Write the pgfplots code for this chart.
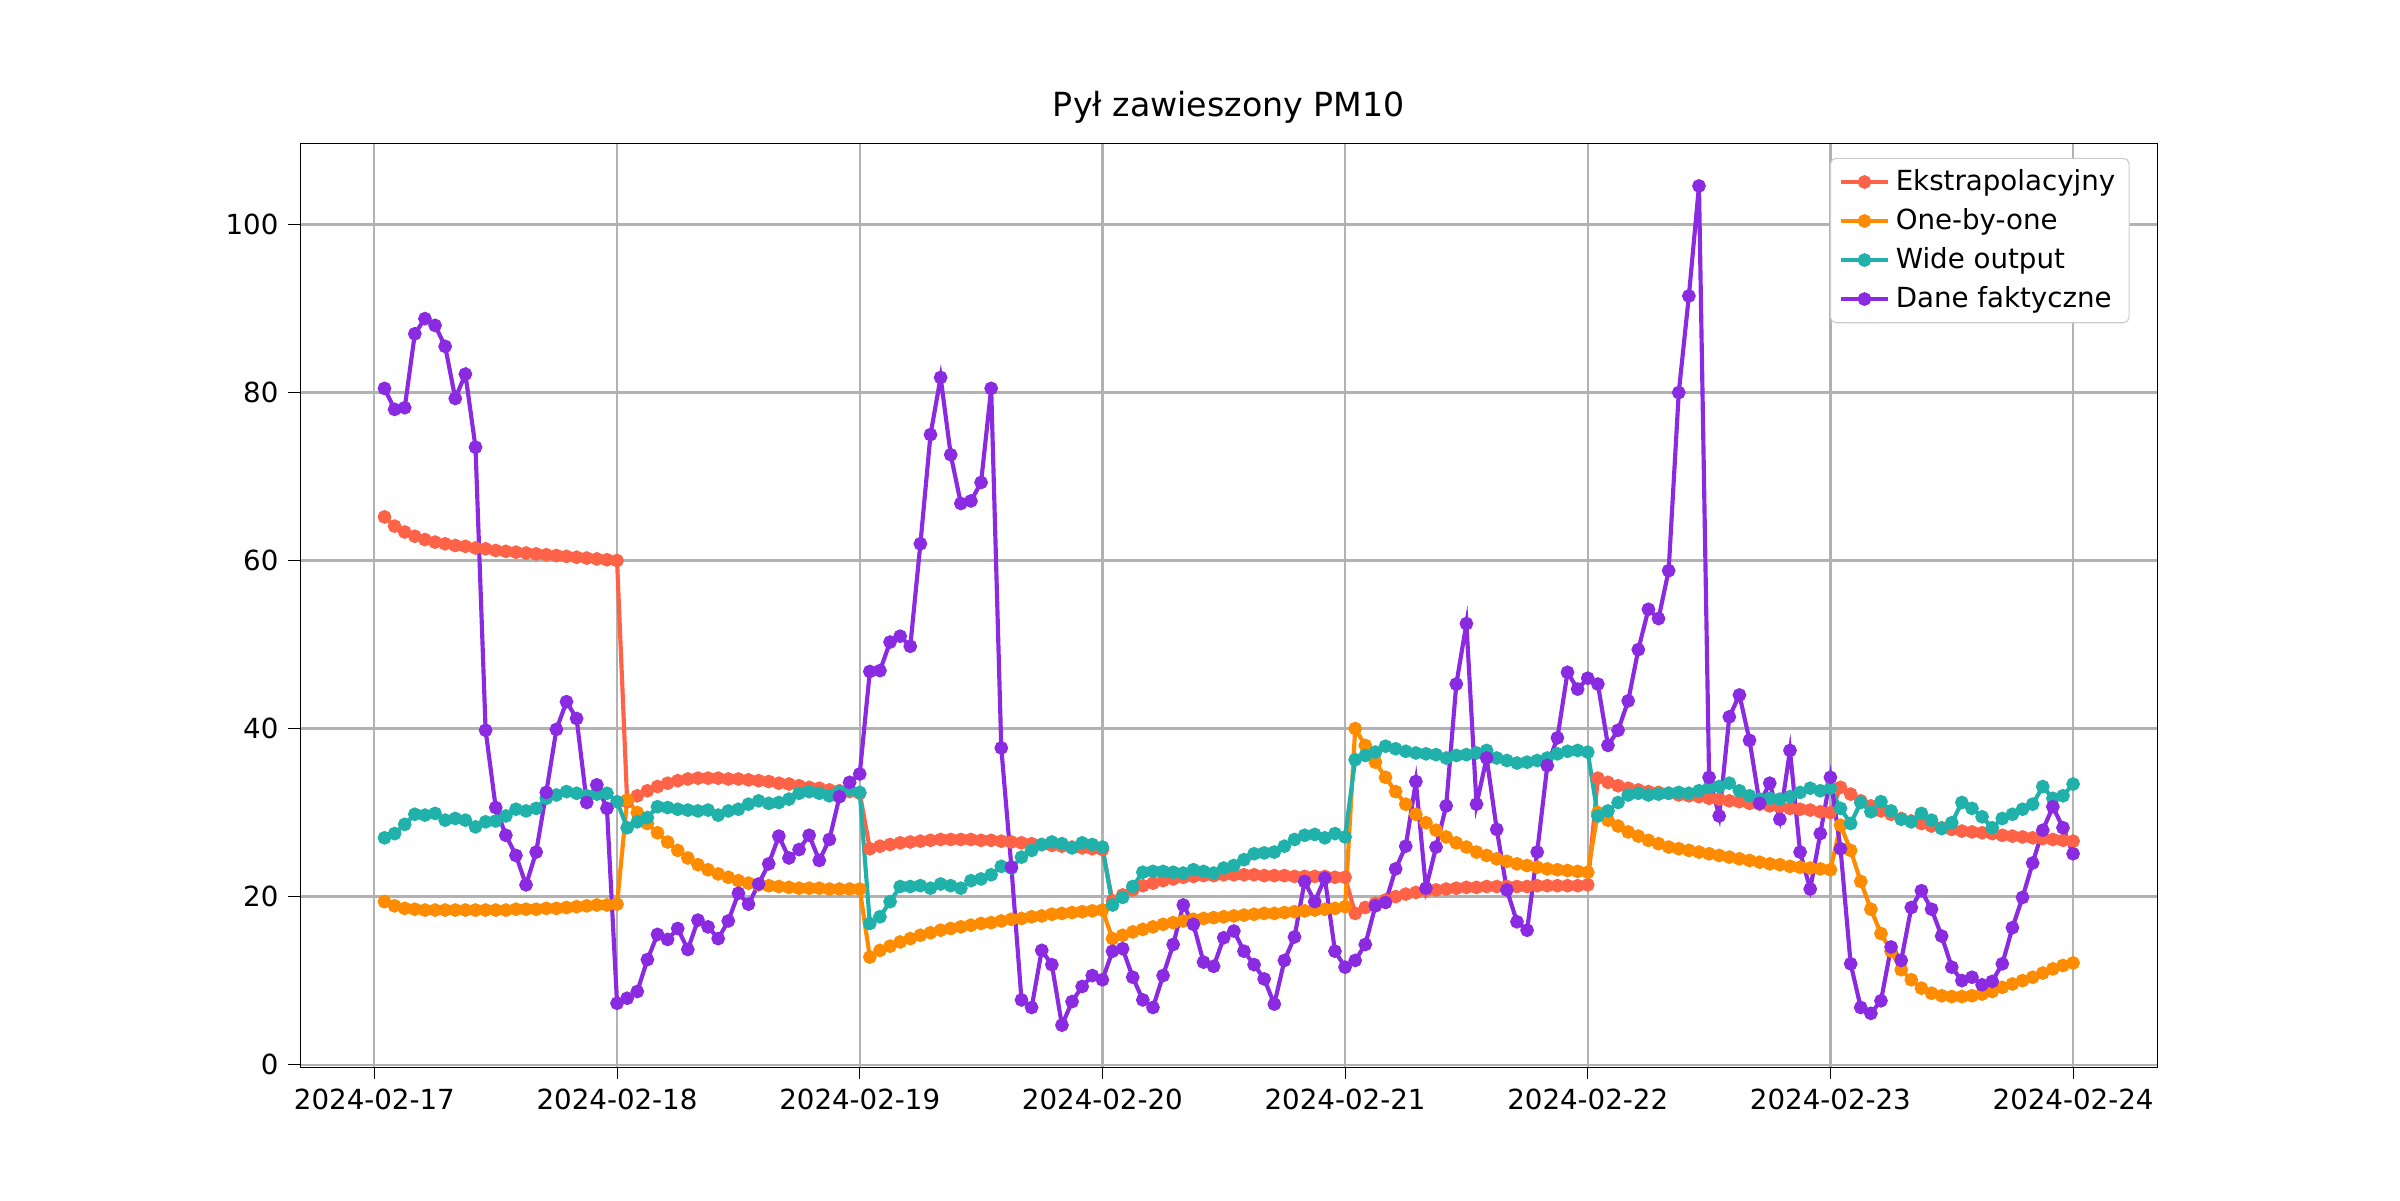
\documentclass[border=0pt]{standalone}
\usepackage{pgfplots}
\usepackage{pgfplotstable}
\pgfplotsset{compat=1.18}
\usepackage{fontspec}
\setmainfont{DejaVu Sans}
\definecolor{cR}{HTML}{FF6347}
\definecolor{cO}{HTML}{FF8C00}
\definecolor{cT}{HTML}{20B2AA}
\definecolor{cP}{HTML}{8A2BE2}
\pgfplotstableread[header=false,row sep=\\]{
65.2\\ 64.1\\ 63.4\\ 62.9\\ 62.5\\ 62.2\\ 62.0\\ 61.8\\ 61.7\\ 61.5\\ 61.4\\ 61.2\\ 61.1\\ 61.0\\ 60.9\\ 60.8\\ 60.7\\ 60.6\\ 60.5\\ 60.4\\ 60.3\\ 60.2\\ 60.1\\ 60.0\\
31.3\\ 32.0\\ 32.6\\ 33.1\\ 33.5\\ 33.8\\ 34.0\\ 34.1\\ 34.1\\ 34.1\\ 34.0\\ 34.0\\ 33.9\\ 33.8\\ 33.7\\ 33.5\\ 33.4\\ 33.2\\ 33.0\\ 32.9\\ 32.7\\ 32.6\\ 32.5\\ 32.3\\
25.7\\ 26.0\\ 26.2\\ 26.4\\ 26.5\\ 26.6\\ 26.7\\ 26.8\\ 26.8\\ 26.8\\ 26.8\\ 26.7\\ 26.7\\ 26.6\\ 26.5\\ 26.4\\ 26.3\\ 26.2\\ 26.1\\ 26.0\\ 25.9\\ 25.8\\ 25.7\\ 25.6\\
19.5\\ 20.2\\ 20.8\\ 21.3\\ 21.6\\ 21.9\\ 22.1\\ 22.3\\ 22.4\\ 22.5\\ 22.5\\ 22.6\\ 22.6\\ 22.6\\ 22.6\\ 22.5\\ 22.5\\ 22.5\\ 22.4\\ 22.4\\ 22.4\\ 22.4\\ 22.3\\ 22.3\\
18.0\\ 18.7\\ 19.2\\ 19.6\\ 20.0\\ 20.3\\ 20.5\\ 20.7\\ 20.8\\ 20.9\\ 21.0\\ 21.1\\ 21.1\\ 21.2\\ 21.2\\ 21.2\\ 21.2\\ 21.2\\ 21.3\\ 21.3\\ 21.3\\ 21.3\\ 21.3\\ 21.4\\
34.1\\ 33.6\\ 33.2\\ 32.9\\ 32.7\\ 32.5\\ 32.4\\ 32.3\\ 32.1\\ 32.0\\ 31.9\\ 31.7\\ 31.6\\ 31.4\\ 31.3\\ 31.1\\ 31.0\\ 30.8\\ 30.7\\ 30.5\\ 30.4\\ 30.3\\ 30.1\\ 30.0\\
33.0\\ 32.2\\ 31.4\\ 30.8\\ 30.2\\ 29.8\\ 29.3\\ 29.0\\ 28.7\\ 28.4\\ 28.2\\ 28.0\\ 27.8\\ 27.7\\ 27.6\\ 27.5\\ 27.3\\ 27.2\\ 27.1\\ 27.0\\ 26.9\\ 26.8\\ 26.7\\ 26.6\\
}\dataR
\pgfplotstableread[header=false,row sep=\\]{
19.4\\ 18.9\\ 18.6\\ 18.5\\ 18.4\\ 18.4\\ 18.4\\ 18.4\\ 18.4\\ 18.4\\ 18.4\\ 18.4\\ 18.4\\ 18.5\\ 18.5\\ 18.5\\ 18.6\\ 18.6\\ 18.7\\ 18.8\\ 18.9\\ 19.0\\ 19.0\\ 19.1\\
31.5\\ 30.0\\ 28.7\\ 27.6\\ 26.5\\ 25.5\\ 24.6\\ 23.8\\ 23.2\\ 22.7\\ 22.3\\ 21.9\\ 21.6\\ 21.4\\ 21.3\\ 21.2\\ 21.1\\ 21.0\\ 21.0\\ 21.0\\ 20.9\\ 20.9\\ 20.9\\ 20.9\\
12.8\\ 13.6\\ 14.1\\ 14.6\\ 15.0\\ 15.4\\ 15.7\\ 16.0\\ 16.2\\ 16.4\\ 16.6\\ 16.8\\ 16.9\\ 17.1\\ 17.3\\ 17.4\\ 17.6\\ 17.7\\ 17.9\\ 18.0\\ 18.1\\ 18.2\\ 18.3\\ 18.4\\
15.0\\ 15.4\\ 15.8\\ 16.1\\ 16.4\\ 16.7\\ 16.9\\ 17.1\\ 17.3\\ 17.4\\ 17.5\\ 17.6\\ 17.7\\ 17.8\\ 17.9\\ 18.0\\ 18.0\\ 18.1\\ 18.2\\ 18.3\\ 18.4\\ 18.5\\ 18.6\\ 18.8\\
40.0\\ 38.0\\ 36.0\\ 34.2\\ 32.5\\ 31.0\\ 29.8\\ 28.8\\ 27.9\\ 27.1\\ 26.4\\ 25.9\\ 25.3\\ 24.9\\ 24.5\\ 24.2\\ 23.9\\ 23.7\\ 23.5\\ 23.3\\ 23.2\\ 23.1\\ 23.0\\ 22.9\\
30.0\\ 29.1\\ 28.4\\ 27.7\\ 27.2\\ 26.7\\ 26.3\\ 25.9\\ 25.7\\ 25.5\\ 25.3\\ 25.1\\ 24.9\\ 24.7\\ 24.5\\ 24.3\\ 24.1\\ 23.9\\ 23.8\\ 23.6\\ 23.5\\ 23.4\\ 23.3\\ 23.2\\
28.5\\ 25.5\\ 21.8\\ 18.5\\ 15.6\\ 13.5\\ 11.3\\ 10.1\\ 9.1\\ 8.5\\ 8.2\\ 8.1\\ 8.1\\ 8.2\\ 8.4\\ 8.7\\ 9.2\\ 9.6\\ 10.0\\ 10.4\\ 10.9\\ 11.4\\ 11.8\\ 12.1\\
}\dataO
\pgfplotstableread[header=false,row sep=\\]{
27.0\\ 27.5\\ 28.6\\ 29.8\\ 29.7\\ 29.9\\ 29.1\\ 29.3\\ 29.1\\ 28.3\\ 28.9\\ 29.0\\ 29.6\\ 30.4\\ 30.2\\ 30.5\\ 31.7\\ 32.1\\ 32.5\\ 32.3\\ 32.0\\ 32.2\\ 32.3\\ 31.3\\
28.2\\ 28.9\\ 29.4\\ 30.7\\ 30.6\\ 30.4\\ 30.3\\ 30.2\\ 30.3\\ 29.7\\ 30.2\\ 30.4\\ 31.0\\ 31.4\\ 31.1\\ 31.2\\ 31.6\\ 32.3\\ 32.5\\ 32.3\\ 32.0\\ 32.5\\ 32.7\\ 32.4\\
16.8\\ 17.6\\ 19.4\\ 21.2\\ 21.2\\ 21.3\\ 21.0\\ 21.5\\ 21.3\\ 21.0\\ 21.9\\ 22.1\\ 22.6\\ 23.6\\ 23.4\\ 24.7\\ 25.5\\ 26.2\\ 26.5\\ 26.3\\ 25.8\\ 26.4\\ 26.2\\ 25.9\\
19.0\\ 19.9\\ 21.2\\ 22.9\\ 23.0\\ 23.0\\ 22.9\\ 22.8\\ 23.2\\ 23.0\\ 22.8\\ 23.4\\ 23.7\\ 24.4\\ 25.1\\ 25.2\\ 25.3\\ 26.0\\ 26.8\\ 27.3\\ 27.4\\ 27.0\\ 27.5\\ 27.1\\
36.3\\ 36.8\\ 37.2\\ 37.9\\ 37.6\\ 37.3\\ 37.1\\ 37.0\\ 36.9\\ 36.5\\ 36.8\\ 36.9\\ 37.1\\ 37.4\\ 36.5\\ 36.2\\ 35.9\\ 36.0\\ 36.2\\ 36.5\\ 37.0\\ 37.3\\ 37.4\\ 37.2\\
29.6\\ 30.2\\ 31.2\\ 32.1\\ 32.3\\ 32.1\\ 32.2\\ 32.3\\ 32.4\\ 32.3\\ 32.6\\ 33.0\\ 33.1\\ 33.5\\ 32.6\\ 32.0\\ 31.6\\ 31.7\\ 31.6\\ 31.9\\ 32.4\\ 32.9\\ 32.6\\ 32.9\\
30.5\\ 28.7\\ 31.2\\ 30.1\\ 31.3\\ 30.2\\ 29.2\\ 28.9\\ 29.9\\ 29.1\\ 28.1\\ 28.8\\ 31.2\\ 30.5\\ 29.5\\ 28.2\\ 29.3\\ 29.8\\ 30.4\\ 31.0\\ 33.1\\ 31.7\\ 32.0\\ 33.4\\
}\dataT
\pgfplotstableread[header=false,row sep=\\]{
80.5\\ 78.0\\ 78.2\\ 87.0\\ 88.8\\ 88.0\\ 85.5\\ 79.3\\ 82.2\\ 73.5\\ 39.8\\ 30.6\\ 27.3\\ 24.9\\ 21.4\\ 25.3\\ 32.4\\ 39.9\\ 43.2\\ 41.2\\ 31.2\\ 33.3\\ 30.5\\ 7.3\\
7.9\\ 8.7\\ 12.5\\ 15.5\\ 14.9\\ 16.2\\ 13.7\\ 17.2\\ 16.4\\ 15.0\\ 17.1\\ 20.4\\ 19.1\\ 21.5\\ 23.9\\ 27.2\\ 24.6\\ 25.6\\ 27.3\\ 24.3\\ 26.8\\ 31.9\\ 33.6\\ 34.6\\
46.8\\ 46.9\\ 50.3\\ 51.0\\ 49.8\\ 62.0\\ 75.0\\ 81.8\\ 72.6\\ 66.8\\ 67.1\\ 69.3\\ 80.5\\ 37.7\\ 23.5\\ 7.7\\ 6.8\\ 13.6\\ 11.9\\ 4.7\\ 7.5\\ 9.3\\ 10.6\\ 10.1\\
13.5\\ 13.8\\ 10.4\\ 7.7\\ 6.8\\ 10.6\\ 14.3\\ 19.0\\ 16.7\\ 12.2\\ 11.7\\ 15.1\\ 15.9\\ 13.5\\ 11.9\\ 10.2\\ 7.2\\ 12.4\\ 15.2\\ 21.8\\ 19.4\\ 22.2\\ 13.5\\ 11.6\\
12.4\\ 14.3\\ 18.9\\ 19.3\\ 23.3\\ 26.0\\ 33.7\\ 21.0\\ 25.9\\ 30.8\\ 45.3\\ 52.5\\ 31.0\\ 36.5\\ 28.0\\ 20.8\\ 17.0\\ 16.0\\ 25.3\\ 35.6\\ 38.9\\ 46.7\\ 44.7\\ 46.0\\
45.3\\ 38.0\\ 39.8\\ 43.3\\ 49.4\\ 54.2\\ 53.1\\ 58.8\\ 80.0\\ 91.5\\ 104.6\\ 34.2\\ 29.6\\ 41.4\\ 44.0\\ 38.6\\ 31.1\\ 33.5\\ 29.2\\ 37.4\\ 25.3\\ 20.9\\ 27.5\\ 34.2\\
25.7\\ 12.0\\ 6.8\\ 6.1\\ 7.6\\ 14.0\\ 12.4\\ 18.7\\ 20.7\\ 18.5\\ 15.3\\ 11.6\\ 10.0\\ 10.4\\ 9.5\\ 9.9\\ 12.0\\ 16.3\\ 19.9\\ 24.0\\ 27.9\\ 30.7\\ 28.2\\ 25.1\\
}\dataP
\begin{document}
\begin{tikzpicture}
\begin{axis}[
  scale only axis, width=671pt, height=333.5pt,
  xmin=-7.35, xmax=176.35, ymin=-0.3, ymax=109.6,
  xtick={0,24,...,168},
  xticklabels={2024-02-17,2024-02-18,2024-02-19,2024-02-20,2024-02-21,2024-02-22,2024-02-23,2024-02-24},
  ytick={0,20,...,100},
  xtick pos=bottom, ytick pos=left,
  grid=major, grid style={gray!60, line width=0.8pt},
  tick style={black}, tick align=outside,
  /pgf/number format/assume math mode=true,
  ticklabel style={font=\fontsize{10}{12}\selectfont},
  title={Pył zawieszony PM10}, title style={font=\fontsize{12}{14}\selectfont, yshift=-2pt},
  legend style={at={(0.985,0.985)}, anchor=north east, font=\fontsize{10}{12}\selectfont, draw=gray!40, rounded corners=2pt, row sep=1pt},
  legend cell align=left,
  every axis plot/.append style={line width=1.5pt, mark=*, mark size=1.7pt},
]
\addplot[cR, mark options={fill=cR}] table[x expr=\coordindex+1, y index=0] {\dataR};
\addlegendentry{Ekstrapolacyjny}
\addplot[cO, mark options={fill=cO}] table[x expr=\coordindex+1, y index=0] {\dataO};
\addlegendentry{One-by-one}
\addplot[cT, mark options={fill=cT}] table[x expr=\coordindex+1, y index=0] {\dataT};
\addlegendentry{Wide output}
\addplot[cP, mark options={fill=cP}] table[x expr=\coordindex+1, y index=0] {\dataP};
\addlegendentry{Dane faktyczne}
\end{axis}
\path[use as bounding box] (-108.4pt,-48.1pt) rectangle (758.6pt,385.5pt);
\end{tikzpicture}
\end{document}
